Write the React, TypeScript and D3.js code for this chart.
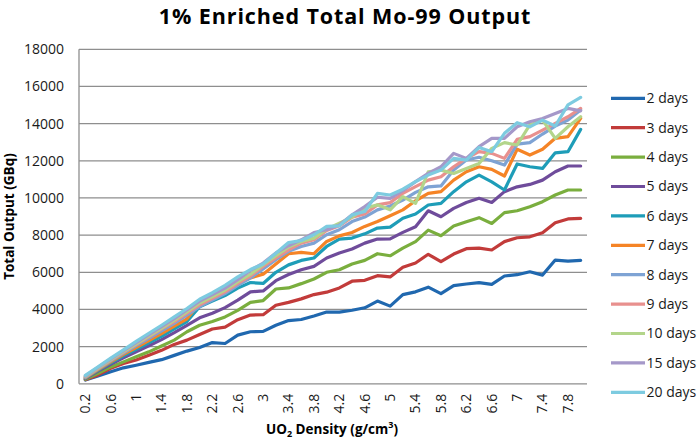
import * as d3 from "d3";
import React, { useRef, useEffect } from "react";

const width = 699;
const height = 441;
const margin = { top: 49.3, right: 112, bottom: 57.2, left: 79 };

// UO2 density (g/cm3), one point per category
const densities = [
  0.2, 0.4, 0.6, 0.8, 1.0, 1.2, 1.4, 1.6, 1.8, 2.0,
  2.2, 2.4, 2.6, 2.8, 3.0, 3.2, 3.4, 3.6, 3.8, 4.0,
  4.2, 4.4, 4.6, 4.8, 5.0, 5.2, 5.4, 5.6, 5.8, 6.0,
  6.2, 6.4, 6.6, 6.8, 7.0, 7.2, 7.4, 7.6, 7.8, 8.0,
];

const yTicks = [0, 2000, 4000, 6000, 8000, 10000, 12000, 14000, 16000, 18000];

const days2 = [
  200, 420, 650, 860, 1000, 1150, 1300, 1530, 1760, 1950,
  2220, 2170, 2620, 2800, 2820, 3150, 3400, 3460, 3650, 3860,
  3860, 3960, 4090, 4450, 4180, 4800, 4950, 5200, 4850, 5280,
  5370, 5440, 5350, 5800, 5870, 6030, 5850, 6660, 6600, 6640,
];
const days3 = [
  220, 480, 830, 1090, 1280, 1540, 1800, 2120, 2350, 2650,
  2950, 3050, 3450, 3700, 3720, 4230, 4380, 4570, 4800, 4930,
  5160, 5520, 5570, 5820, 5750, 6270, 6500, 6970, 6570, 6980,
  7270, 7300, 7200, 7650, 7860, 7910, 8130, 8670, 8870, 8900,
];
const days4 = [
  240, 560, 910, 1180, 1450, 1720, 2030, 2350, 2800, 3150,
  3350, 3600, 3950, 4380, 4480, 5100, 5160, 5390, 5640, 6000,
  6140, 6450, 6640, 7000, 6890, 7300, 7650, 8270, 7970, 8490,
  8720, 8940, 8630, 9210, 9310, 9530, 9800, 10160, 10430, 10430,
];
const days5 = [
  280, 680, 1050, 1400, 1720, 2050, 2380, 2750, 3150, 3550,
  3800, 4100, 4500, 4950, 5000, 5550, 5880, 6140, 6320, 6770,
  7040, 7250, 7570, 7790, 7800, 8150, 8450, 9310, 8990, 9440,
  9760, 9980, 9760, 10340, 10600, 10730, 10960, 11410, 11720, 11720,
];
const days6 = [
  300, 720, 1120, 1500, 1850, 2200, 2550, 2950, 3350, 4150,
  4450, 4750, 5150, 5450, 5400, 6000, 6400, 6640, 6770, 7390,
  7790, 7840, 8070, 8380, 8430, 8910, 9140, 9620, 9710, 10340,
  10870, 11230, 10870, 10430, 11830, 11680, 11590, 12430, 12490, 13690,
];
const days7 = [
  320, 760, 1180, 1580, 1950, 2330, 2700, 3100, 3500, 4350,
  4650, 5000, 5350, 5700, 5900, 6450, 7000, 7070, 7000, 7660,
  7960, 8140, 8470, 8730, 9040, 9360, 9850, 10250, 10340, 10960,
  11410, 11680, 11540, 11180, 12620, 12310, 12620, 13210, 13300, 14280,
];
const days8 = [
  350, 800, 1230, 1650, 2050, 2450, 2850, 3250, 3700, 4150,
  4500, 4850, 5300, 5700, 6180, 6680, 7130, 7390, 7570, 8020,
  8290, 8730, 8970, 9360, 9570, 9890, 10300, 10600, 10650, 11500,
  12040, 12190, 12000, 11770, 12900, 12980, 13440, 13870, 14190, 14730,
];
const days9 = [
  380, 830, 1270, 1700, 2120, 2530, 2950, 3350, 3800, 4250,
  4600, 4950, 5400, 5800, 6320, 6770, 7210, 7570, 7750, 8250,
  8500, 8970, 9140, 9630, 9750, 10250, 10610, 10960, 11140, 11680,
  12130, 12490, 12400, 12130, 13150, 13300, 13650, 14010, 14370, 14820,
];
const days10 = [
  400, 860, 1300, 1730, 2150, 2580, 3000, 3420, 3880, 4350,
  4700, 5050, 5500, 5900, 6410, 6890, 7360, 7660, 7840, 8320,
  8640, 8970, 9450, 9630, 9360, 10070, 9710, 11410, 11500, 11320,
  11590, 11860, 12670, 12980, 12850, 13930, 14190, 13210, 13830, 14370,
];
const days15 = [
  420, 890, 1340, 1780, 2220, 2650, 3080, 3500, 3980, 4450,
  4800, 5150, 5600, 6100, 6500, 7040, 7430, 7750, 8140, 8290,
  8550, 9090, 9540, 10040, 9980, 10390, 10880, 11320, 11680, 12400,
  12130, 12760, 13210, 13210, 13830, 14100, 14280, 14550, 14820, 14690,
];
const days20 = [
  450, 920, 1380, 1830, 2280, 2720, 3150, 3600, 4050, 4550,
  4900, 5300, 5750, 6150, 6450, 7030, 7600, 7710, 8020, 8470,
  8500, 9090, 9270, 10250, 10160, 10470, 10880, 11230, 11500, 12130,
  12040, 12720, 12490, 13480, 14050, 13830, 14190, 13870, 15010, 15410,
];

const seriesNames = [
  "2 days", "3 days", "4 days", "5 days", "6 days", "7 days",
  "8 days", "9 days", "10 days", "15 days", "20 days",
];
const seriesValues = [
  days2, days3, days4, days5, days6, days7,
  days8, days9, days10, days15, days20,
];
const seriesColors = [
  "#2068AF", "#C23B3A", "#7AAE3E", "#6F4C9B", "#1E9DB8", "#F58426",
  "#7EA3D4", "#E8908E", "#B3D58A", "#A598C9", "#7DCBE0",
];

const font = "'Open Sans', 'Liberation Sans', sans-serif";

function Chart() {
  const ref = useRef(null);

  useEffect(() => {
    const svg = d3.select(ref.current);
    svg.selectAll("*").remove();

    const labels = densities.map((d) => String(+d.toFixed(1)));

    const scaleX = d3
      .scalePoint()
      .domain(labels)
      .range([margin.left, width - margin.right])
      .padding(0.5);

    const scaleY = d3
      .scaleLinear()
      .domain([0, 18000])
      .range([height - margin.bottom, margin.top]);

    // gridlines
    svg
      .append("g")
      .selectAll("line")
      .data(yTicks)
      .join("line")
      .attr("x1", margin.left)
      .attr("x2", width - margin.right)
      .attr("y1", (d) => scaleY(d))
      .attr("y2", (d) => scaleY(d))
      .attr("stroke", "#8E8E8E")
      .attr("stroke-width", 1.3);

    // left axis line
    svg
      .append("line")
      .attr("x1", margin.left)
      .attr("x2", margin.left)
      .attr("y1", scaleY(0))
      .attr("y2", scaleY(18000))
      .attr("stroke", "#8E8E8E")
      .attr("stroke-width", 1.3);

    // Y Axis labels
    const yAxis = svg
      .append("g")
      .attr("transform", `translate(${margin.left}, 0)`)
      .call(
        d3
          .axisLeft(scaleY)
          .tickValues(yTicks)
          .tickFormat(d3.format("d"))
          .tickSize(0)
          .tickPadding(15)
      );
    yAxis.select(".domain").remove();
    yAxis
      .selectAll("text")
      .attr("font-family", font)
      .attr("font-size", 14)
      .attr("fill", "#1a1a1a");

    // X Axis labels, every other category
    svg
      .append("g")
      .selectAll("text")
      .data(labels.filter((_, i) => i % 2 === 0))
      .join("text")
      .attr(
        "transform",
        (d) => `translate(${scaleX(d)},${scaleY(0) + 10}) rotate(-90)`
      )
      .attr("dy", "0.35em")
      .attr("text-anchor", "end")
      .attr("font-family", font)
      .attr("font-size", 14)
      .attr("fill", "#1a1a1a")
      .text((d) => d);

    // lines
    const lineGenerator = d3
      .line<number>()
      .x((_, i) => scaleX(labels[i]) as number)
      .y((d) => scaleY(d));

    svg
      .append("g")
      .selectAll("path")
      .data(seriesValues)
      .join("path")
      .attr("fill", "none")
      .attr("stroke", (_, i) => seriesColors[i])
      .attr("stroke-width", 3.2)
      .attr("stroke-linejoin", "round")
      .attr("stroke-linecap", "round")
      .attr("d", (d) => lineGenerator(d));

    // Legend
    const legend = svg
      .append("g")
      .selectAll("g")
      .data(seriesNames)
      .join("g")
      .attr("transform", (_, i) => `translate(611, ${98.3 + i * 29.4})`);
    legend
      .append("line")
      .attr("x1", 0)
      .attr("x2", 34)
      .attr("stroke", (_, i) => seriesColors[i])
      .attr("stroke-width", 3.2);
    legend
      .append("text")
      .attr("x", 35.5)
      .attr("dy", "0.35em")
      .attr("font-family", font)
      .attr("font-size", 14)
      .attr("fill", "#1a1a1a")
      .text((d) => d);

    // Title
    svg
      .append("text")
      .attr("x", 345)
      .attr("y", 24)
      .attr("text-anchor", "middle")
      .attr("font-family", font)
      .attr("font-weight", "bold")
      .attr("font-size", 21.5)
      .attr("letter-spacing", 0.9)
      .attr("fill", "#000")
      .text("1% Enriched Total Mo-99 Output");

    // Y title
    svg
      .append("text")
      .attr("transform", `translate(14, ${(scaleY(0) + scaleY(18000)) / 2}) rotate(-90)`)
      .attr("text-anchor", "middle")
      .attr("font-family", font)
      .attr("font-weight", "bold")
      .attr("font-size", 13.5)
      .attr("fill", "#000")
      .text("Total Output (GBq)");

    // X title
    const xTitle = svg
      .append("text")
      .attr("x", 332)
      .attr("y", 434)
      .attr("text-anchor", "middle")
      .attr("font-family", font)
      .attr("font-weight", "bold")
      .attr("font-size", 13.5)
      .attr("fill", "#000");
    xTitle.append("tspan").text("UO");
    xTitle.append("tspan").attr("font-size", 9).attr("dy", 3).text("2");
    xTitle.append("tspan").attr("dy", -3).text(" Density (g/cm");
    xTitle.append("tspan").attr("font-size", 9).attr("dy", -6).text("3");
    xTitle.append("tspan").attr("dy", 6).text(")");
  }, []);

  return (
    <svg
      ref={ref}
      width={width}
      height={height}
      viewBox={`0 0 ${width} ${height}`}
      style={{ position: "absolute", left: 0, top: 0, background: "#fff" }}
    />
  );
}

export default function App() {
  return <Chart />;
}
